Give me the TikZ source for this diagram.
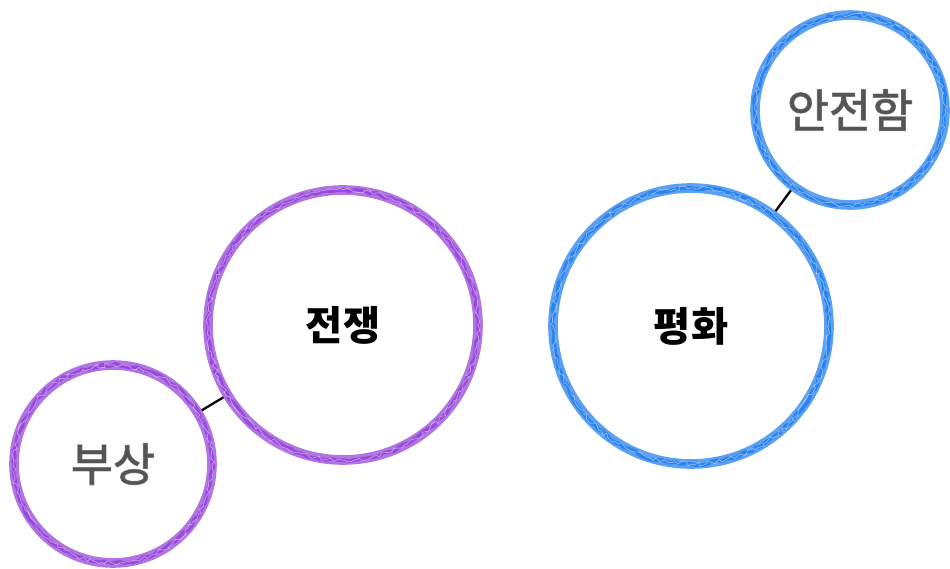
\documentclass[tikz,border=0pt]{standalone}
\usepackage{fontspec}
\newfontfamily\kr{Noto Sans CJK KR}
\newfontfamily\krmid[FakeBold=2.5]{Noto Sans CJK KR}
\usetikzlibrary{decorations.pathmorphing}
\definecolor{warpurple}{RGB}{150,70,218}
\definecolor{peaceblue}{RGB}{38,128,238}
\definecolor{softgray}{RGB}{85,85,85}

\begin{document}
\begin{tikzpicture}[x=0.02cm, y=-0.02cm,
  ring/.style={circle, inner sep=0pt, draw=#1, draw opacity=0.75, line width=5.5pt,
    postaction={draw=#1, line width=2pt, draw opacity=0.9, decorate,
      decoration={random steps, segment length=3pt, amplitude=0.8pt}},
    postaction={draw=white, line width=0.4pt, draw opacity=0.45, decorate,
      decoration={random steps, segment length=2pt, amplitude=1.3pt}}},
  bigtext/.style={font=\kr\bfseries\fontsize{23}{26}\selectfont, text=black},
  smalltext/.style={font=\krmid\fontsize{26}{30}\selectfont, text=softgray},
  link/.style={line width=1.3pt, black}]
\useasboundingbox (0,0) rectangle (950,568);
% war side
\node[ring=warpurple, minimum size=5.4cm, bigtext] (war) at (343,325) {전쟁};
\node[ring=warpurple, minimum size=3.96cm, smalltext] (injury) at (113,464) {부상};
% peace side
\node[ring=peaceblue, minimum size=5.52cm, bigtext] (peace) at (691,326) {평화};
\node[ring=peaceblue, minimum size=3.8cm, smalltext] (safe) at (850,110) {안전함};
% connectors
\draw[link] (injury) -- (war);
\draw[link] (peace) -- (safe);
\end{tikzpicture}
\end{document}
